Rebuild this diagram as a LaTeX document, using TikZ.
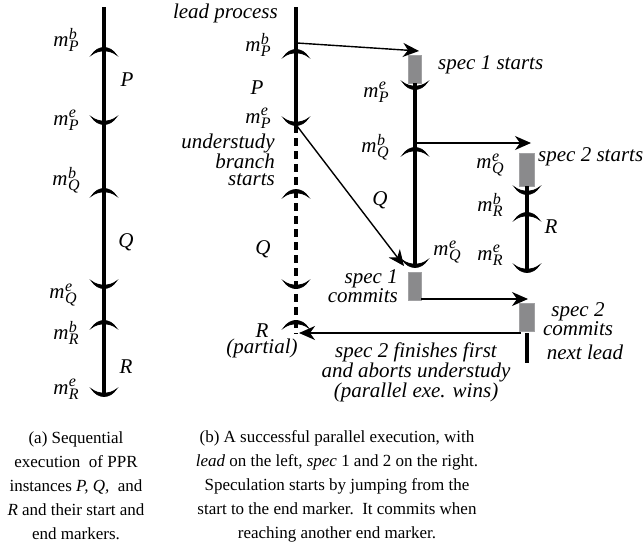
\documentclass[tikz,border=0pt]{standalone}
\usepackage{fontspec}
\setmainfont{Liberation Serif}
\usetikzlibrary{arrows.meta}
\definecolor{boxgray}{RGB}{138,138,140}
\newcommand{\scr}{\fontsize{16}{16}\selectfont\itshape}
\newcommand{\mk}[2]{\textit{m}\kern0.5pt\makebox[0pt][l]{\raisebox{7.5pt}{\scr #1}}\raisebox{-5pt}{\scr #2}}
\begin{document}
\begin{tikzpicture}[x=1pt,y=-1pt,
  lbl/.style={font=\fontsize{21}{16.5}\selectfont\itshape, inner sep=0pt, align=center},
  captxt/.style={font=\fontsize{17}{24}\selectfont, inner sep=0pt, align=center},
  thread/.style={line width=4.2pt},
  dthread/.style={line width=4.2pt, dash pattern=on 8pt off 5pt},
  arr/.style={line width=1.4pt, -{Stealth[length=16pt,width=14pt,inset=5pt]}},
  gbox/.style={fill=boxgray, draw=boxgray!80, line width=0.4pt, inner sep=0pt, minimum width=13pt},
  bmk/.pic={\filldraw[line width=0.8pt] (-12.5,7) .. controls (-6,-3) and (6,-3) .. (12.5,7) .. controls (6,1.5) and (-6,1.5) .. cycle;},
  emk/.pic={\filldraw[line width=0.8pt] (-12.5,-7) .. controls (-6,3) and (6,3) .. (12.5,-7) .. controls (6,-1.5) and (-6,-1.5) .. cycle;}
]
\fill[white] (0,0) rectangle (644,554);
\useasboundingbox (0,0) rectangle (644,554);

% ---------- panel (a) ----------
\coordinate (at) at (104,7);
\coordinate (ab) at (104,395);
\draw[thread] (at) -- (ab);
\pic at (104,48) {bmk};
\pic at (104,124) {emk};
\pic at (104,189) {bmk};
\pic at (104,288) {emk};
\pic at (104,321) {bmk};
\pic at (104,396) {emk};
\node[lbl] (aPb) at (66,40) {\mk{b}{P}};
\node[lbl] (aP) at (127,80) {P};
\node[lbl] (aPe) at (66,120) {\mk{e}{P}};
\node[lbl] (aQb) at (66,180) {\mk{b}{Q}};
\node[lbl] (aQ) at (126,242) {Q};
\node[lbl] (aQe) at (63,295) {\mk{e}{Q}};
\node[lbl] (aRb) at (66,333) {\mk{b}{R}};
\node[lbl] (aR) at (126,367) {R};
\node[lbl] (aRe) at (66,389) {\mk{e}{R}};

% ---------- panel (b): lead ----------
\coordinate (lt) at (296,7);
\coordinate (lpe) at (296,125);
\coordinate (lb) at (296,334);
\draw[thread] (lt) -- (lpe);
\draw[dthread] (lpe) -- (lb);
\pic at (296,50) {bmk};
\pic at (296,125) {emk};
\pic at (296,190) {bmk};
\pic at (296,288) {emk};
\pic at (296,321) {bmk};
\node[lbl, anchor=east] (lead) at (278,13) {lead process};
\node[lbl] (lPb) at (258,45) {\mk{b}{P}};
\node[lbl] (lP) at (257,88) {P};
\node[lbl] (lPe) at (258,118) {\mk{e}{P}};
\node[lbl, anchor=east, align=right] (under) at (275,160) {understudy\\branch\\starts};
\node[lbl] (lQ) at (263,249) {Q};
\node[lbl] (lR) at (262,341) {R\\(partial)};

% ---------- spec 1 ----------
\node[gbox, minimum height=28pt] (s1a) at (415,69) {};
\node[gbox, minimum height=28pt] (s1c) at (415,286) {};
\draw[thread] (s1a.south) -- (415,266);
\pic at (415,89) {emk};
\pic at (415,148) {bmk};
\pic at (415,267) {emk};
\node[lbl, anchor=west] (s1st) at (438,65) {spec 1 starts};
\node[lbl] (sPe) at (376,92) {\mk{e}{P}};
\node[lbl] (sQb) at (375,147) {\mk{b}{Q}};
\node[lbl] (sQ) at (380,200) {Q};
\node[lbl] (sQe) at (447,252) {\mk{e}{Q}};
\node[lbl, anchor=east, align=right] (s1cm) at (398,286) {spec 1\\commits};

% ---------- spec 2 ----------
\node[gbox, minimum height=33pt, minimum width=15pt] (s2a) at (527,169.5) {};
\node[gbox, minimum height=28pt, minimum width=15pt] (s2c) at (527,317) {};
\draw[thread] (s2a.south) -- (527,272);
\pic at (527,194) {emk};
\pic at (527,213) {bmk};
\pic at (527,272) {emk};
\coordinate (nlt) at (527,333);
\coordinate (nlb) at (527,363);
\draw[thread] (nlt) -- (nlb);
\node[lbl, anchor=west] (s2st) at (538,157) {spec 2 starts};
\node[lbl] (tQe) at (490,165) {\mk{e}{Q}};
\node[lbl] (tRb) at (490,205) {\mk{b}{R}};
\node[lbl] (tR) at (551,227) {R};
\node[lbl] (tRe) at (490,255) {\mk{e}{R}};
\node[lbl] (s2cm) at (578,319) {spec 2\\commits};
\node[lbl] (next) at (585,352) {next lead};
\node[lbl] (fin) at (416,372) {spec 2 finishes first\\and aborts understudy\\(parallel exe. wins)};

% ---------- arrows ----------
\coordinate (a1s) at (297,43);
\coordinate (a1e) at (419,51);
\coordinate (a2s) at (417,143);
\coordinate (a2e) at (531,143);
\coordinate (a3s) at (297,126);
\coordinate (a3e) at (404,266);
\coordinate (a4s) at (421,299);
\coordinate (a4e) at (528,299);
\coordinate (a5s) at (521,333);
\coordinate (a5e) at (299,333);
\draw[arr] (a1s) -- (a1e);
\draw[arr] (a2s) -- (a2e);
\draw[arr] (a3s) -- (a3e);
\draw[arr] (a4s) -- (a4e);
\draw[arr] (a5s) -- (a5e);

% ---------- captions ----------
\node[captxt] (capa) at (76,486) {(a) Sequential\\execution\ \ of PPR\\instances \textit{P, Q,}\ \ and\\\textit{R} and their start and\\end markers.};
\node[captxt] (capb) at (337,486) {(b) A successful parallel execution, with\\\textit{lead} on the left, \textit{spec} 1 and 2 on the right.\\Speculation starts by jumping from the\\start to the end marker.\ \ It commits when\\reaching another end marker.};
\end{tikzpicture}
\end{document}
